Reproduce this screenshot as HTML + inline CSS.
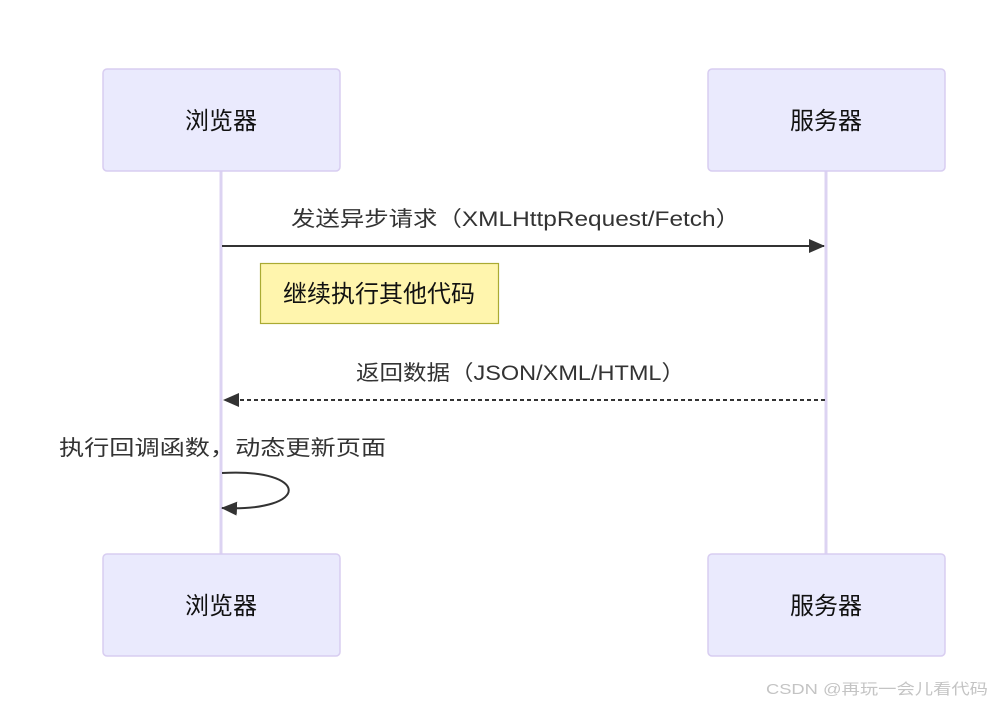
<!DOCTYPE html>
<html><head><meta charset="utf-8"><style>
html,body{margin:0;padding:0;background:#fff;}
svg{display:block;}
text{font-family:"Liberation Sans","Noto Sans CJK SC",sans-serif;}
</style></head><body>
<svg width="992" height="705" viewBox="0 0 992 705" xmlns="http://www.w3.org/2000/svg">
<defs>
<marker id="ah" markerWidth="16" markerHeight="14" refX="15" refY="7" orient="auto" markerUnits="userSpaceOnUse">
<path d="M0,0 L16,7 L0,14 z" fill="#333"/></marker>
</defs>
<line x1="221" y1="171" x2="221" y2="554" stroke="#dcd3f2" stroke-width="3"/>
<line x1="826" y1="171" x2="826" y2="554" stroke="#dcd3f2" stroke-width="3"/>
<g fill="#eaeafd" stroke="#d8cdf1" stroke-width="1.5">
<rect x="103" y="69" width="237" height="102" rx="4"/>
<rect x="708" y="69" width="237" height="102" rx="4"/>
<rect x="103" y="554" width="237" height="102" rx="4"/>
<rect x="708" y="554" width="237" height="102" rx="4"/>
</g>
<g font-size="24" fill="#111" text-anchor="middle">
<text x="221" y="129">浏览器</text>
<text x="826" y="129">服务器</text>
<text x="221" y="614">浏览器</text>
<text x="826" y="614">服务器</text>
</g>
<text x="291" y="226" font-size="21" fill="#333" textLength="449" lengthAdjust="spacingAndGlyphs">发送异步请求（XMLHttpRequest/Fetch）</text>
<line x1="222" y1="246" x2="824" y2="246" stroke="#333" stroke-width="2" marker-end="url(#ah)"/>
<rect x="260.5" y="263.5" width="238" height="60" fill="#fff5ad" stroke="#aaaa33" stroke-width="1.2"/>
<text x="379" y="302" font-size="24" fill="#111" text-anchor="middle">继续执行其他代码</text>
<text x="356" y="380" font-size="21" fill="#333" textLength="329" lengthAdjust="spacingAndGlyphs">返回数据（JSON/XML/HTML）</text>
<line x1="825" y1="400" x2="224" y2="400" stroke="#333" stroke-width="2" stroke-dasharray="4,3" marker-end="url(#ah)"/>
<text x="59" y="455" font-size="21" fill="#333" textLength="327" lengthAdjust="spacingAndGlyphs">执行回调函数，动态更新页面</text>
<path d="M222,473 C310,468 312,512 222,508" fill="none" stroke="#333" stroke-width="2" marker-end="url(#ah)"/>
<text x="766" y="694" font-size="15" fill="#c4c4c4" textLength="222" lengthAdjust="spacingAndGlyphs">CSDN @再玩一会儿看代码</text>
</svg>
</body></html>
